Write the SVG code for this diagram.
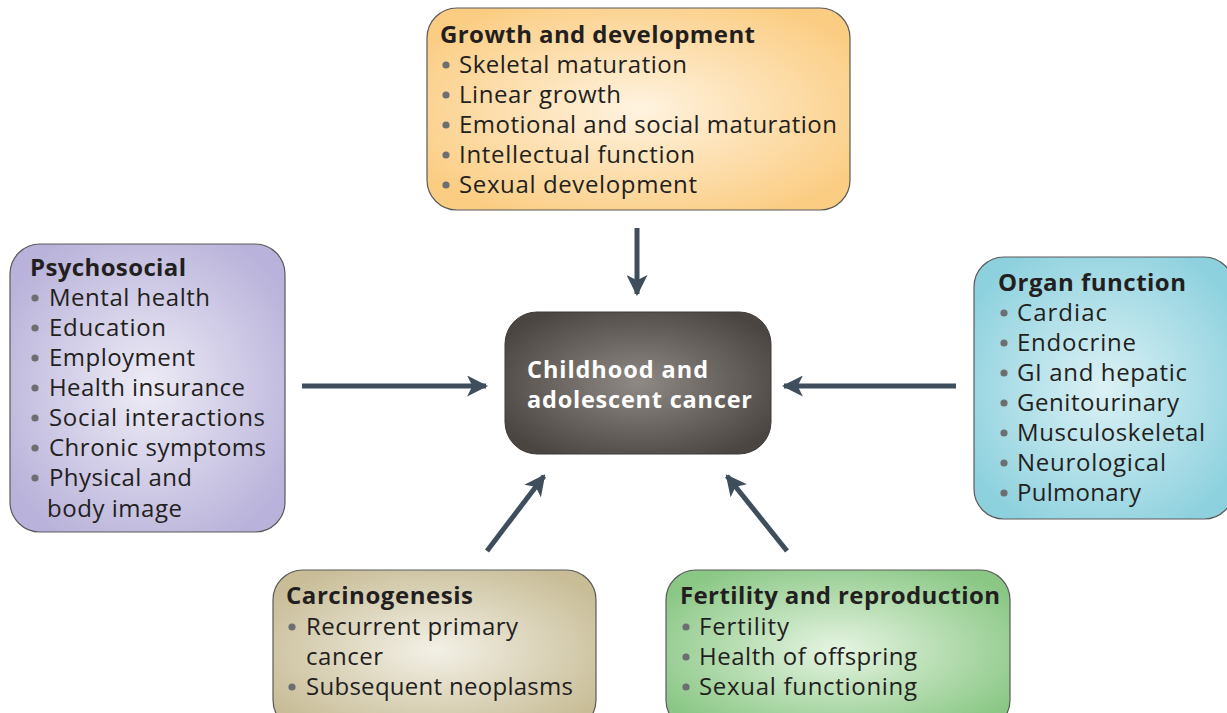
<svg xmlns="http://www.w3.org/2000/svg" width="1227" height="713" viewBox="0 0 1227 713">
<defs>
<radialGradient id="gOr" cx="0.5" cy="0.5" r="0.6"><stop offset="0" stop-color="#fff3e0"/><stop offset="1" stop-color="#fbcd83"/></radialGradient>
<radialGradient id="gPu" cx="0.5" cy="0.5" r="0.6"><stop offset="0" stop-color="#eeecf6"/><stop offset="1" stop-color="#b9b2da"/></radialGradient>
<radialGradient id="gBl" cx="0.5" cy="0.5" r="0.6"><stop offset="0" stop-color="#dcf1f5"/><stop offset="1" stop-color="#8dd1de"/></radialGradient>
<radialGradient id="gTa" cx="0.5" cy="0.5" r="0.6"><stop offset="0" stop-color="#f3f0e6"/><stop offset="1" stop-color="#c8bd97"/></radialGradient>
<radialGradient id="gGr" cx="0.5" cy="0.5" r="0.6"><stop offset="0" stop-color="#e6f4e2"/><stop offset="1" stop-color="#8ac785"/></radialGradient>
<radialGradient id="gDk" cx="0.5" cy="0.5" r="0.6"><stop offset="0" stop-color="#8f8985"/><stop offset="1" stop-color="#4b4541"/></radialGradient>
<marker id="ah" viewBox="0 0 10 10" refX="9" refY="5" markerWidth="4.2" markerHeight="4.2" orient="auto" markerUnits="strokeWidth">
<path d="M0,0 L10,5 L0,10 L2.5,5 Z" fill="#3e4e5c"/>
</marker>
</defs>
<style>
.box{stroke:#5a5a5a;stroke-width:1.2}
.t{font-family:"Open Sans",Lato,sans-serif;font-size:24px;fill:#231f20}
.h{font-weight:bold}
.b{fill:#6d6e71}
.w{font-family:"Open Sans",Lato,sans-serif;font-size:23.5px;font-weight:bold;fill:#ffffff}
.arr{stroke:#3e4e5c;stroke-width:5;fill:none;marker-end:url(#ah)}
</style>

<g id="growth">
<rect class="box" x="427" y="8" width="423" height="202" rx="30" fill="url(#gOr)"/>
<text class="t h" x="440" y="43" textLength="315" lengthAdjust="spacing">Growth and development</text>
<circle class="b" cx="446" cy="65" r="3.6"/><text class="t" x="459" y="73" textLength="228" lengthAdjust="spacing">Skeletal maturation</text>
<circle class="b" cx="446" cy="95" r="3.6"/><text class="t" x="459" y="103" textLength="162" lengthAdjust="spacing">Linear growth</text>
<circle class="b" cx="446" cy="125" r="3.6"/><text class="t" x="459" y="133" textLength="378" lengthAdjust="spacing">Emotional and social maturation</text>
<circle class="b" cx="446" cy="155" r="3.6"/><text class="t" x="459" y="163" textLength="236" lengthAdjust="spacing">Intellectual function</text>
<circle class="b" cx="446" cy="185" r="3.6"/><text class="t" x="459" y="193" textLength="238" lengthAdjust="spacing">Sexual development</text>
</g>

<g id="psychosocial">
<rect class="box" x="10" y="244" width="275" height="288" rx="30" fill="url(#gPu)"/>
<text class="t h" x="30" y="276" textLength="156" lengthAdjust="spacing">Psychosocial</text>
<circle class="b" cx="35" cy="298" r="3.6"/><text class="t" x="49" y="306" textLength="161" lengthAdjust="spacing">Mental health</text>
<circle class="b" cx="35" cy="328" r="3.6"/><text class="t" x="49" y="336" textLength="117" lengthAdjust="spacing">Education</text>
<circle class="b" cx="35" cy="358" r="3.6"/><text class="t" x="49" y="366" textLength="146" lengthAdjust="spacing">Employment</text>
<circle class="b" cx="35" cy="388" r="3.6"/><text class="t" x="49" y="396" textLength="196" lengthAdjust="spacing">Health insurance</text>
<circle class="b" cx="35" cy="418" r="3.6"/><text class="t" x="49" y="426" textLength="216" lengthAdjust="spacing">Social interactions</text>
<circle class="b" cx="35" cy="448" r="3.6"/><text class="t" x="49" y="456" textLength="217" lengthAdjust="spacing">Chronic symptoms</text>
<circle class="b" cx="35" cy="478" r="3.6"/><text class="t" x="49" y="486" textLength="143" lengthAdjust="spacing">Physical and</text>
<text class="t" x="47" y="517" textLength="135" lengthAdjust="spacing">body image</text>
</g>

<g id="organ">
<rect class="box" x="974" y="257" width="260" height="262" rx="30" fill="url(#gBl)"/>
<text class="t h" x="998" y="291" textLength="188" lengthAdjust="spacing">Organ function</text>
<circle class="b" cx="1004" cy="313" r="3.6"/><text class="t" x="1017" y="321" textLength="90" lengthAdjust="spacing">Cardiac</text>
<circle class="b" cx="1004" cy="343" r="3.6"/><text class="t" x="1017" y="351" textLength="119" lengthAdjust="spacing">Endocrine</text>
<circle class="b" cx="1004" cy="373" r="3.6"/><text class="t" x="1017" y="381" textLength="170" lengthAdjust="spacing">GI and hepatic</text>
<circle class="b" cx="1004" cy="403" r="3.6"/><text class="t" x="1017" y="411" textLength="162" lengthAdjust="spacing">Genitourinary</text>
<circle class="b" cx="1004" cy="433" r="3.6"/><text class="t" x="1017" y="441" textLength="188" lengthAdjust="spacing">Musculoskeletal</text>
<circle class="b" cx="1004" cy="463" r="3.6"/><text class="t" x="1017" y="471" textLength="149" lengthAdjust="spacing">Neurological</text>
<circle class="b" cx="1004" cy="493" r="3.6"/><text class="t" x="1017" y="501" textLength="124" lengthAdjust="spacing">Pulmonary</text>
</g>

<g id="center">
<rect x="505" y="312" width="266" height="142" rx="32" fill="url(#gDk)" stroke="#3f3a37" stroke-width="1"/>
<text class="w" x="527" y="378" textLength="181" lengthAdjust="spacing">Childhood and</text>
<text class="w" x="527" y="408" textLength="225" lengthAdjust="spacing">adolescent cancer</text>
</g>

<g id="carcinogenesis">
<rect class="box" x="273" y="570" width="323" height="160" rx="30" fill="url(#gTa)"/>
<text class="t h" x="286" y="604" textLength="187" lengthAdjust="spacing">Carcinogenesis</text>
<circle class="b" cx="292" cy="627" r="3.6"/><text class="t" x="306" y="635" textLength="212" lengthAdjust="spacing">Recurrent primary</text>
<text class="t" x="306" y="665" textLength="77" lengthAdjust="spacing">cancer</text>
<circle class="b" cx="292" cy="687" r="3.6"/><text class="t" x="306" y="695" textLength="267" lengthAdjust="spacing">Subsequent neoplasms</text>
</g>

<g id="fertility">
<rect class="box" x="666" y="570" width="344" height="160" rx="30" fill="url(#gGr)"/>
<text class="t h" x="680" y="604" textLength="320" lengthAdjust="spacing">Fertility and reproduction</text>
<circle class="b" cx="686" cy="627" r="3.6"/><text class="t" x="699" y="635" textLength="90" lengthAdjust="spacing">Fertility</text>
<circle class="b" cx="686" cy="657" r="3.6"/><text class="t" x="699" y="665" textLength="218" lengthAdjust="spacing">Health of offspring</text>
<circle class="b" cx="686" cy="687" r="3.6"/><text class="t" x="699" y="695" textLength="218" lengthAdjust="spacing">Sexual functioning</text>
</g>

<g id="connectors">
<line class="arr" x1="637" y1="228" x2="637" y2="294"/>
<line class="arr" x1="302" y1="386" x2="486" y2="386"/>
<line class="arr" x1="956" y1="386" x2="784" y2="386"/>
<line class="arr" x1="487" y1="551" x2="544" y2="476"/>
<line class="arr" x1="787" y1="551" x2="727" y2="476"/>
</g>
</svg>
